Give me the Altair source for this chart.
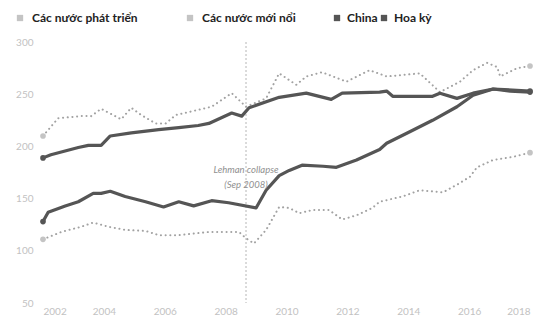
import altair as alt
import pandas as pd

# Series names (legend order)
DEV = "Các nước phát triển"
EME = "Các nước mới nổi"
CHN = "China"
USA = "Hoa kỳ"
light_grey = "#c4c4c4"
dot_grey = "#a2a2a2"
dark_grey = "#555555"

# Debt levels (% of GDP) by year
dev_years = [2002.0, 2002.5, 2003.25, 2003.58, 2003.91, 2004.57, 2004.9, 2005.23, 2005.7,
             2006.03, 2006.36, 2007.1, 2007.54, 2008.2, 2008.67, 2009.33, 2009.76, 2010.32,
             2010.65, 2011.17, 2011.97, 2012.73, 2013.29, 2014.38, 2015.04, 2015.7, 2016.13,
             2016.59, 2016.92, 2017.02, 2017.58, 2018.0]
dev_vals = [210, 227, 229, 229, 236, 226, 237, 230, 222, 222, 230, 235, 238, 251, 238, 246,
            270, 259, 267, 271, 262, 273, 267, 270, 252, 262, 273, 280, 276, 267, 275, 277]

eme_years = [2002.0, 2002.6, 2003.25, 2003.65, 2004.15, 2004.7, 2005.37, 2005.8, 2006.46,
             2007.1, 2007.45, 2008.44, 2008.67, 2008.93, 2009.33, 2009.76, 2010.09, 2010.42,
             2010.85, 2011.4, 2011.83, 2012.3, 2012.82, 2013.06, 2013.81, 2014.38, 2015.14,
             2015.7, 2016.03, 2016.26, 2016.79, 2017.45, 2018.0]
eme_vals = [111, 118, 123, 127, 123, 120, 119, 115, 115, 117, 118, 118, 112, 107, 120, 142,
            141, 136, 139, 139, 130, 134, 141, 147, 152, 158, 156, 165, 171, 180, 187, 190, 194]

chn_years = [2002.0, 2002.17, 2002.73, 2003.16, 2003.65, 2003.91, 2004.21, 2004.7, 2005.37,
             2005.96, 2006.46, 2006.95, 2007.54, 2008.1, 2009.0, 2009.33, 2009.76, 2010.09,
             2010.51, 2011.2, 2011.64, 2012.3, 2013.06, 2013.29, 2014.05, 2014.8, 2015.6,
             2016.13, 2016.79, 2017.35, 2018.0]
chn_vals = [128, 137, 143, 147, 155, 155, 157, 152, 147, 142, 147, 143, 148, 146, 141, 158,
            172, 177, 182, 181, 180, 187, 197, 203, 214, 225, 238, 249, 255, 253, 252]

usa_years = [2002.0, 2002.26, 2003.16, 2003.49, 2003.91, 2004.21, 2004.9, 2005.8, 2006.46,
             2007.1, 2007.45, 2008.2, 2008.53, 2008.77, 2009.76, 2010.65, 2011.47, 2011.83,
             2013.06, 2013.29, 2013.49, 2014.8, 2015.04, 2015.6, 2016.13, 2016.79, 2018.0]
usa_vals = [189, 192, 199, 201, 201, 210, 213, 216, 218, 220, 222, 232, 229, 237, 247, 251,
            245, 251, 252, 253, 248, 248, 251, 246, 251, 255, 253]

lehman_year = 2008.67
lehman_label = ["Lehman collapse", "(Sep 2008)"]

x_ticks = [2002, 2004, 2006, 2008, 2010, 2012, 2014, 2016, 2018]
y_ticks = [50, 100, 150, 200, 250, 300]

frames = []
for name, yrs, vals in [(DEV, dev_years, dev_vals), (EME, eme_years, eme_vals),
                        (CHN, chn_years, chn_vals), (USA, usa_years, usa_vals)]:
    frames.append(pd.DataFrame({"series": name, "year": yrs, "value": vals,
                                "order": range(len(yrs))}))
df = pd.concat(frames, ignore_index=True)

# first and last observation of every series carry a dot
ends = pd.concat([g.iloc[[0, -1]] for _, g in df.groupby("series", sort=False)])

x_scale = alt.Scale(domain=[2002, 2018], nice=False, zero=False)
y_scale = alt.Scale(domain=[50, 300], nice=False, zero=False)
x_enc = alt.X("year:Q", scale=x_scale,
              axis=alt.Axis(values=x_ticks, format="d", title=None, grid=False,
                            domain=False, ticks=False, labelPadding=3,
                            labelColor="#c2c2c2", labelFontSize=10, labelFont="Lato"))
y_enc = alt.Y("value:Q", scale=y_scale,
              axis=alt.Axis(values=y_ticks, title=None, grid=False, domain=False,
                            ticks=False, labelPadding=10, labelColor="#c2c2c2",
                            labelFontSize=10, labelFont="Lato"))

legend_style = dict(title=None, orient="none", direction="horizontal", columns=2,
                    legendY=-30, symbolType="square", symbolSize=40, symbolStrokeWidth=0,
                    labelFont="Lato", labelFontSize=12, labelFontWeight="bold",
                    labelColor="#222")

base = alt.Chart(df)

dotted = base.mark_line(strokeWidth=2, strokeDash=[0.1, 4.6], strokeCap="round",
                        color=dot_grey).encode(
    x=x_enc, y=y_enc, order="order:Q", detail="series:N",
).transform_filter(alt.FieldOneOfPredicate(field="series", oneOf=[DEV, EME]))

solid = base.mark_line(strokeWidth=3.2, strokeJoin="round", color=dark_grey).encode(
    x=x_enc, y=y_enc, order="order:Q", detail="series:N",
).transform_filter(alt.FieldOneOfPredicate(field="series", oneOf=[CHN, USA]))

# end dots of the economy groups (light) carry the first legend
dots_groups = alt.Chart(ends).mark_point(filled=True, size=32, opacity=1).encode(
    x=x_enc, y=y_enc,
    fill=alt.Fill("series:N", sort=[DEV, EME],
                  scale=alt.Scale(domain=[DEV, EME], range=[light_grey, light_grey]),
                  legend=alt.Legend(legendX=-29, labelOffset=6, columnPadding=46,
                                    **legend_style)),
).transform_filter(alt.FieldOneOfPredicate(field="series", oneOf=[DEV, EME]))

# end dots of the two countries (dark) carry the second legend
dots_countries = alt.Chart(ends).mark_point(filled=True, size=32, opacity=1).encode(
    x=x_enc, y=y_enc,
    color=alt.Color("series:N", sort=[CHN, USA],
                    scale=alt.Scale(domain=[CHN, USA], range=[dark_grey, dark_grey]),
                    legend=alt.Legend(legendX=288, labelOffset=4, columnPadding=0,
                                      **legend_style)),
).transform_filter(alt.FieldOneOfPredicate(field="series", oneOf=[CHN, USA]))

rule_df = pd.DataFrame({"year": [lehman_year]})
rule = alt.Chart(rule_df).mark_rule(color="#cfcfcf", strokeDash=[2, 2], strokeWidth=1.5).encode(
    x=alt.X("year:Q", scale=x_scale)
)
note = alt.Chart(rule_df).mark_text(
    font="Lato", fontStyle="italic", fontSize=9.5, color="#909090", lineHeight=15,
    align="center", baseline="middle",
).encode(
    x=alt.X("year:Q", scale=x_scale), y=alt.datum(177, scale=y_scale), text=alt.value(lehman_label)
)

chart = alt.layer(rule, dotted, solid, dots_groups, dots_countries, note).properties(
    width=487, height=261,
    background="white",
    autosize=alt.AutoSizeParams(type="none"),
    padding={"left": 43, "top": 42, "right": 16, "bottom": 19},
).configure_view(stroke=None)

chart.save("out.html", embed_options={"renderer": "svg", "actions": False})
